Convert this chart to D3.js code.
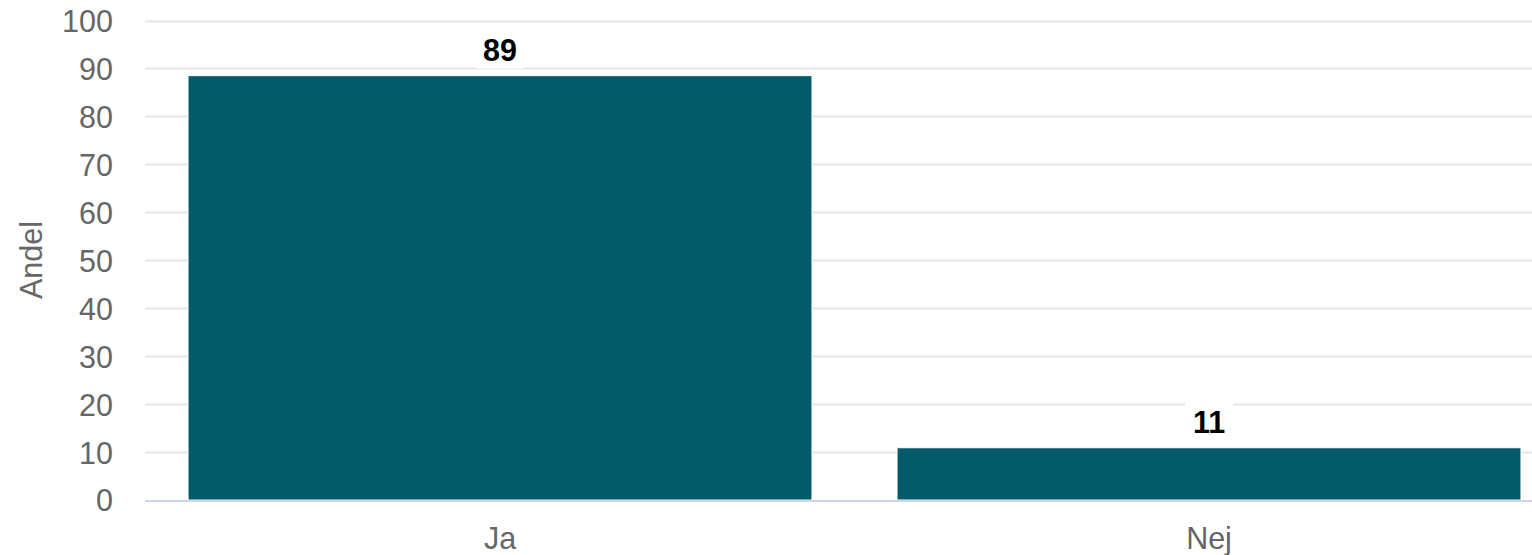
<!DOCTYPE html>
<html><head><meta charset="utf-8">
<script src="https://cdn.jsdelivr.net/npm/d3@7"></script>
<style>html,body{margin:0;padding:0;background:#fff;overflow:hidden}svg{display:block;font-family:"Liberation Sans",Arial,sans-serif}</style>
</head><body>
<svg id="chart" width="1532" height="555"></svg>
<script>
const categories = ["Ja", "Nej"];
const values = [88.5, 10.9];
const yTicks = [0, 10, 20, 30, 40, 50, 60, 70, 80, 90, 100];
const yTitle = "Andel";

const svg = d3.select("#chart");
const plotLeft = 145, plotRight = 1532, plotTop = 20.5, plotBottom = 500;

const x = d3.scaleBand().domain(categories).range([145.5, 1563.5]).padding(0);
const y = d3.scaleLinear().domain([0, 100]).range([plotBottom, plotTop]);

// gridlines
svg.append("g").selectAll("line").data(yTicks.filter(d => d !== 0)).join("line")
  .attr("x1", plotLeft).attr("x2", plotRight)
  .attr("y1", d => Math.round(y(d)) + 0.5).attr("y2", d => Math.round(y(d)) + 0.5)
  .attr("stroke", "#e6e6e6").attr("stroke-width", 2);

// y axis labels
const yAxis = d3.axisLeft(y).tickValues(yTicks).tickSize(0).tickPadding(0);
const gy = svg.append("g").attr("transform", `translate(113,0)`).call(yAxis);
gy.select(".domain").remove();
gy.selectAll("text").attr("font-size", 30.5).attr("fill", "#666666")
  .attr("font-family", "Liberation Sans, Arial, sans-serif").attr("dy", "0.36em");

// y title
svg.append("text").attr("transform", `translate(42,260) rotate(-90)`)
  .attr("text-anchor", "middle").attr("font-size", 30.5).attr("fill", "#666666").text(yTitle);

// bars
const barW = x.bandwidth() * 0.88;
svg.append("g").selectAll("rect").data(categories).join("rect")
  .attr("x", (d) => x(d) + (x.bandwidth() - barW) / 2)
  .attr("width", barW)
  .attr("y", (d, i) => y(values[i]))
  .attr("height", (d, i) => y(0) - y(values[i]))
  .attr("fill", "#035a69").attr("stroke", "#ffffff").attr("stroke-width", 1);

// x axis line
svg.append("line").attr("x1", plotLeft).attr("x2", plotRight)
  .attr("y1", plotBottom + 1).attr("y2", plotBottom + 1)
  .attr("stroke", "#ccd6eb").attr("stroke-width", 2);

// x axis labels
const xAxis = d3.axisBottom(x).tickSize(0).tickPadding(0);
const gx = svg.append("g").attr("transform", `translate(0,${plotBottom})`).call(xAxis);
gx.select(".domain").remove();
gx.selectAll("text").attr("font-size", 30.5).attr("fill", "#666666")
  .attr("font-family", "Liberation Sans, Arial, sans-serif").attr("dy", null).attr("y", 49);

// value labels
const fmt = d3.format(".0f");
const lbl = svg.append("g").selectAll("g").data(categories).join("g")
  .attr("transform", (d, i) => `translate(${x(d) + x.bandwidth() / 2},${y(values[i]) - 15})`);
lbl.append("rect").attr("x", -24).attr("width", 48).attr("y", -30).attr("height", 38).attr("fill", "#ffffff");
lbl.append("text").attr("text-anchor", "middle").attr("font-size", 30.5).attr("font-weight", "bold")
  .attr("fill", "#000000").text((d, i) => fmt(values[i]));
</script>
</body></html>
